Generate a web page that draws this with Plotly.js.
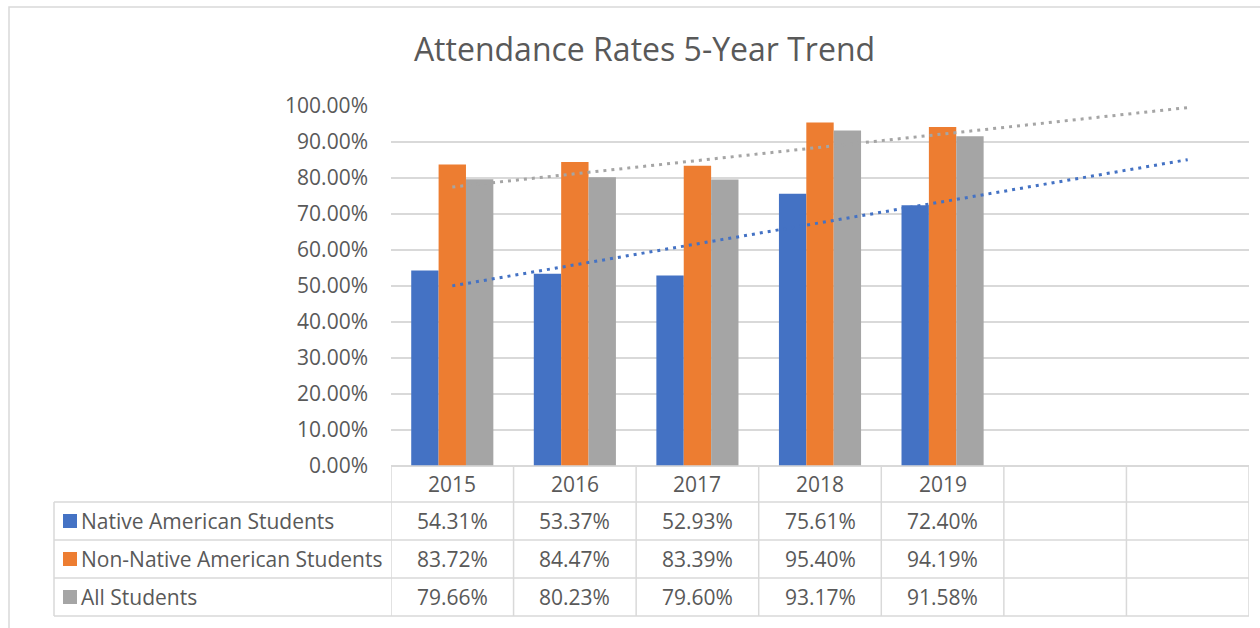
<!DOCTYPE html>
<html>
<head>
<meta charset="utf-8">
<script src="https://cdn.plot.ly/plotly-3.0.1.min.js"></script>
<style>
  html, body { margin: 0; padding: 0; background: #fff; }
  #chart { width: 1260px; height: 628px; }
</style>
</head>
<body>
<div id="chart"></div>
<script>
// chart values
const years = ["2015", "2016", "2017", "2018", "2019"];
const native = [54.31, 53.37, 52.93, 75.61, 72.40];
const nonNative = [83.72, 84.47, 83.39, 95.40, 94.19];
const allStudents = [79.66, 80.23, 79.60, 93.17, 91.58];
const seriesNames = ["Native American Students", "Non-Native American Students", "All Students"];
const colors = ["#4472C4", "#ED7D31", "#A5A5A5"];
const forecastPeriods = 2;   // trendline is extended two periods forward

document.addEventListener("DOMContentLoaded", function() {
    const xs = years.map(function(_, i) { return i; });
    const nCols = years.length + forecastPeriods;
    const series = [native, nonNative, allStudents];

    // least squares trendline, as the spreadsheet draws it
    function linFit(vals) {
        const n = vals.length;
        const mx = (n - 1) / 2;
        const my = vals.reduce(function(a, b) { return a + b; }, 0) / n;
        let sxy = 0, sxx = 0;
        vals.forEach(function(v, i) { sxy += (i - mx) * (v - my); sxx += (i - mx) * (i - mx); });
        const slope = sxy / sxx;
        const b = my - slope * mx;
        const lastX = n - 1 + forecastPeriods;
        return { x: [0, lastX], y: [b, b + slope * lastX] };
    }

    const data = series.map(function(vals, k) {
        return {
            x: xs, y: vals, name: seriesNames[k], type: "bar",
            marker: { color: colors[k], line: { width: 0 } }
        };
    });

    [0, 2].forEach(function(k) {
        const fit = linFit(series[k]);
        data.push({
            x: fit.x, y: fit.y, type: "scatter", mode: "lines",
            line: { color: colors[k], width: 3, dash: "3px,5px" },
            showlegend: false
        });
    });

    // data table below the plot
    const gridCol = "#d9d9d9";
    const plotLeft = 391, plotW = 858, plotBottom = 466, plotH = 360;
    function py(p) { return (plotBottom - p) / plotH; }
    function px(p) { return (p - plotLeft) / plotW; }
    const rowEdges = [466, 502, 540, 578, 616];
    const shapes = [];
    const annotations = [];

    // outer chart frame
    shapes.push({ type: "rect", xref: "paper", yref: "paper",
        x0: px(9), x1: px(1275), y0: py(7), y1: py(640),
        line: { color: gridCol, width: 1.5 }, fillcolor: "rgba(0,0,0,0)" });

    rowEdges.forEach(function(r, i) {
        shapes.push({ type: "line", xref: "paper", yref: "paper",
            x0: i === 0 ? 0 : px(54), x1: 1, y0: py(r), y1: py(r),
            line: { color: gridCol, width: 1.5 } });
    });
    shapes.push({ type: "line", xref: "paper", yref: "paper",
        x0: px(54), x1: px(54), y0: py(502), y1: py(616),
        line: { color: gridCol, width: 1.5 } });
    for (let c = 0; c <= nCols; c++) {
        shapes.push({ type: "line", xref: "x", yref: "paper",
            x0: c - 0.5, x1: c - 0.5, y0: py(466), y1: py(616),
            line: { color: gridCol, width: 1.5 } });
    }

    const textFont = { family: "Open Sans", size: 21, color: "#595959" };
    years.forEach(function(yr, i) {
        annotations.push({ xref: "x", yref: "paper", x: i, y: py(484),
            xanchor: "center", yanchor: "middle",
            text: yr, showarrow: false, font: textFont });
        series.forEach(function(vals, k) {
            annotations.push({ xref: "x", yref: "paper", x: i, y: py(521 + 38 * k),
                xanchor: "center", yanchor: "middle",
                text: vals[i].toFixed(2) + "%", showarrow: false, font: textFont });
        });
    });
    seriesNames.forEach(function(name, k) {
        const cy = 521 + 38 * k;
        shapes.push({ type: "rect", xref: "paper", yref: "paper",
            x0: px(63), x1: px(77), y0: py(cy - 7), y1: py(cy + 7),
            fillcolor: colors[k], line: { width: 0 } });
        annotations.push({ xref: "paper", yref: "paper", x: px(79), y: py(cy),
            xanchor: "left", yanchor: "middle",
            text: name, showarrow: false, font: textFont });
    });

    const layout = {
        width: 1260, height: 628,
        margin: { l: 391, r: 11, t: 106, b: 162 },
        paper_bgcolor: "#fff", plot_bgcolor: "#fff",
        font: { family: "Open Sans", color: "#595959" },
        title: { text: "Attendance Rates 5-Year Trend", x: 0.5115, xanchor: "center",
            y: 0.92, yanchor: "middle",
            font: { family: "Open Sans", size: 32, color: "#595959" } },
        barmode: "group", bargap: 0.33, bargroupgap: 0,
        showlegend: false, hovermode: false,
        xaxis: { range: [-0.5, nCols - 0.5], showticklabels: false, showgrid: false,
            zeroline: false, showline: false, ticks: "" },
        yaxis: { range: [0, 100], dtick: 10, tickformat: ".2f", ticksuffix: "%",
            gridcolor: gridCol, gridwidth: 1.5, zeroline: true, zerolinecolor: gridCol,
            zerolinewidth: 1.5, showline: false, ticks: "", ticklabelstandoff: 22,
            tickfont: { family: "Open Sans", size: 21, color: "#595959" } },
        shapes: shapes,
        annotations: annotations
    };

    Plotly.newPlot("chart", data, layout, { staticPlot: true });
});
</script>
</body>
</html>
